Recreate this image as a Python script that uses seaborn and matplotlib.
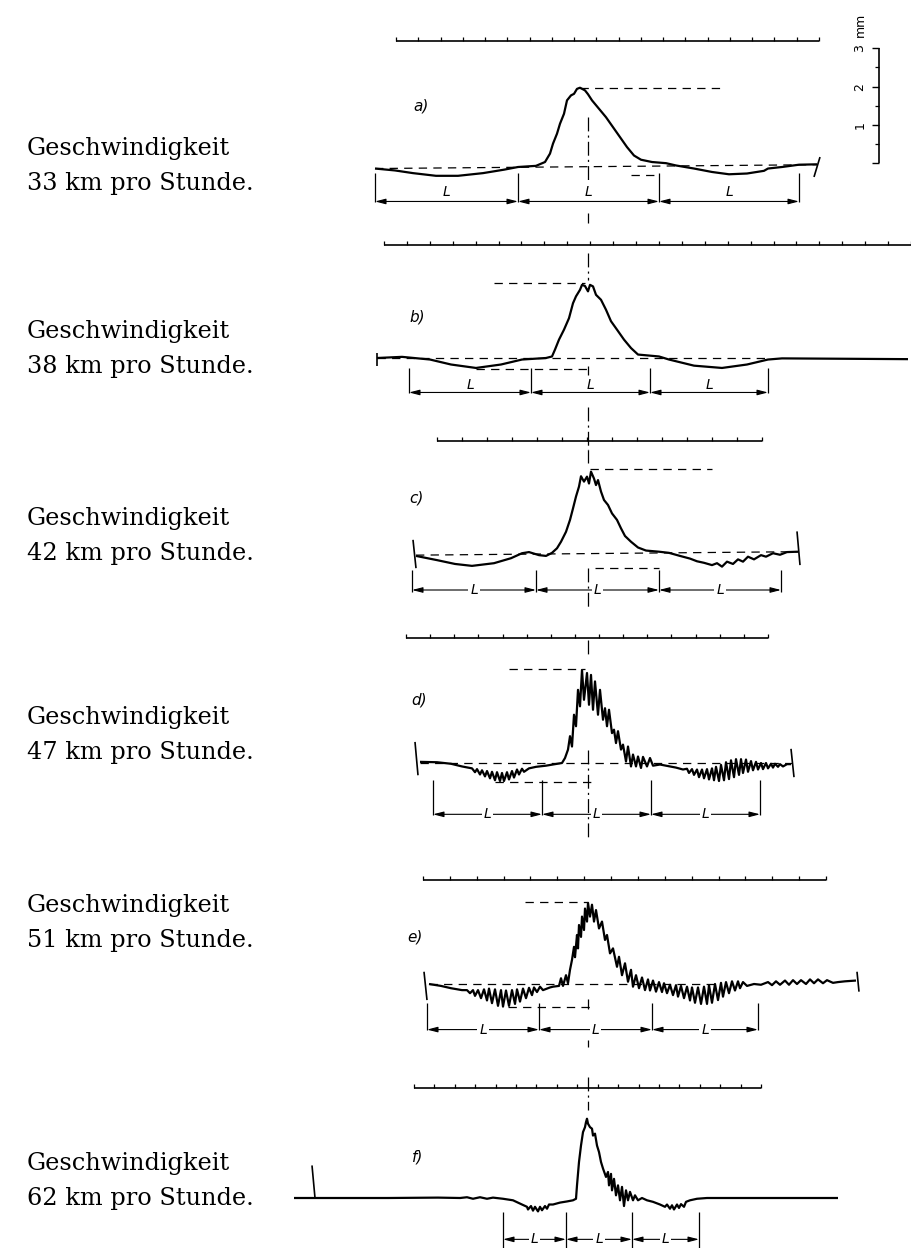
import numpy as np
import matplotlib
matplotlib.use("Agg")
import matplotlib.pyplot as plt
import seaborn as sns

sns.set_style("white")
plt.rcParams["font.family"] = ["DejaVu Serif"]
plt.rcParams["text.color"] = "black"
plt.rcParams["lines.scale_dashes"] = False
plt.rcParams["lines.solid_capstyle"] = "butt"

# ---- data -----------------------------------------------------------------
speeds = [33, 38, 42, 47, 51, 62]          # km pro Stunde
letters = ["a)", "b)", "c)", "d)", "e)", "f)"]

# deflection curves: x = position along the record (relative to the centre line),
# h = deflection in mm above the rest line
a_x = [-213, -193, -175, -152, -130, -105, -84, -70, -52, -43, -38, -35, -31, -28, -24, -21,
       -17, -14, -11, -8, -3, 0, 4, 11, 18, 25, 32, 39, 46, 53, 64, 78, 88, 106, 124, 141,
       159, 176, 180, 194, 211, 229]
a_h = [-0.04, -0.09, -0.16, -0.23, -0.23, -0.16, -0.07, 0.0, 0.03, 0.13, 0.35, 0.61, 0.87,
       1.13, 1.39, 1.74, 1.87, 1.91, 2.04, 2.07, 2.0, 1.9, 1.74, 1.52, 1.30, 1.04, 0.78, 0.52,
       0.30, 0.19, 0.13, 0.10, 0.04, -0.04, -0.13, -0.19, -0.17, -0.10, -0.04, 0.0, 0.06, 0.07]

b_x = [-211, -186, -158, -137, -112, -87, -66, -42, -36, -33, -29, -24, -19, -15, -12, -8,
       -6, -3, 0, 2, 5, 8, 13, 18, 23, 29, 36, 43, 50, 71, 81, 106, 134, 159, 180, 194, 320]
b_h = [0, 0.03, -0.04, -0.17, -0.26, -0.17, -0.04, 0, 0.04, 0.22, 0.48, 0.74, 1.04, 1.43,
       1.61, 1.78, 1.91, 1.88, 1.74, 1.91, 1.87, 1.65, 1.52, 1.26, 0.96, 0.74, 0.48, 0.26,
       0.09, 0.04, -0.04, -0.2, -0.26, -0.17, -0.04, -0.01, -0.03]

c_x = [-172, -151, -133, -116, -94, -77, -66, -59, -49, -42, -36, -31, -27, -22, -18, -15,
       -12, -9, -7, -4, -1, 1, 3, 6, 8, 10, 13, 16, 20, 24, 29, 33, 37, 43, 50, 58, 71, 81,
       92, 102, 109, 116, 124, 129, 134, 139, 145, 150, 155, 160, 166, 173, 178, 185, 192,
       199, 210]
c_h = [-0.05, -0.16, -0.26, -0.31, -0.24, -0.11, 0.02, 0.05, -0.03, -0.05, 0.03, 0.15, 0.32,
       0.58, 0.89, 1.19, 1.50, 1.76, 2.03, 1.89, 2.02, 1.84, 2.15, 1.97, 1.80, 1.93, 1.63,
       1.41, 1.28, 1.06, 0.89, 0.67, 0.47, 0.32, 0.17, 0.09, 0.06, 0.03, -0.05, -0.12, -0.19,
       -0.23, -0.29, -0.24, -0.33, -0.2, -0.26, -0.14, -0.2, -0.07, -0.14, -0.03, -0.07,
       0.02, -0.02, 0.05, 0.06]

d_x = [-168, -151, -137, -126, -116, -113, -111, -108, -106, -103, -101, -98, -96, -93, -91,
       -88, -86, -84, -81, -79, -76, -74, -71, -69, -66, -64, -59, -52, -42, -33,
       -26, -23, -20, -18, -16, -14, -12, -10, -8, -6, -4, -1, 1, 3, 5, 7, 10, 12, 15, 17,
       19, 21, 24, 26, 28, 30, 33, 35, 38, 40, 43, 45, 48, 50, 53, 55, 59, 62, 65, 72, 82,
       88, 95, 99, 101, 104, 106, 109, 111, 114, 116, 119, 121, 124, 126, 128, 131, 133, 136,
       138, 141, 143, 146, 148, 151, 153, 155, 158, 160, 163, 165, 168, 170, 173, 175, 178,
       180, 183, 185, 187, 190, 192, 195, 199, 203]
d_h = [0.03, 0.02, -0.02, -0.09, -0.14, -0.24, -0.16, -0.30, -0.19, -0.35, -0.21, -0.40,
       -0.23, -0.45, -0.24, -0.47, -0.26, -0.47, -0.24, -0.43, -0.21, -0.38, -0.17, -0.30,
       -0.15, -0.23, -0.14, -0.10, -0.07, -0.03,
       0, 0.13, 0.35, 0.70, 0.43, 1.26, 0.96, 1.91, 1.48, 2.43, 1.65, 2.35, 1.52, 2.30, 1.39,
       2.13, 1.26, 1.91, 1.13, 1.43, 0.96, 1.39, 0.78, 0.87, 0.52, 0.83, 0.35, 0.48, 0.04,
       0.43, -0.09, 0.22, -0.09, 0.17, -0.13, 0.16, -0.09, 0.13, -0.07, -0.04, -0.09,
       -0.12, -0.17, -0.15, -0.26, -0.16, -0.31, -0.17, -0.37, -0.17, -0.40, -0.16, -0.43,
       -0.14, -0.45, -0.10, -0.47, -0.05, -0.45, 0.02, -0.42, 0.07, -0.37, 0.10, -0.31, 0.10,
       -0.26, 0.09, -0.23, 0.05, -0.19, 0.03, -0.17, 0, -0.16, 0, -0.14, -0.02, -0.12, -0.02,
       -0.10, -0.03, -0.09, -0.03, -0.03]

e_x = [-159, -147, -137, -126, -121, -118, -115, -113, -110, -107, -104, -101, -99, -96, -93,
       -90, -87, -85, -82, -79, -76, -73, -71, -68, -65, -62, -59, -56, -54, -51, -48, -45,
       -38, -35, -29, -27, -25, -22, -20, -18, -16, -14, -13, -11, -10, -9, -7, -6, -4, -3,
       -1, 0, 2, 4, 6, 8, 11, 14, 17, 19, 22, 25, 29, 31, 34, 37, 40, 43, 45, 48, 51, 54, 57,
       60, 62, 65, 68, 71, 74, 76, 79, 82, 85, 88, 90, 93, 96, 99, 102, 104, 107, 110, 113,
       116, 119, 121, 124, 127, 130, 133, 135, 138, 141, 144, 147, 150, 152, 155, 159, 166,
       173, 180, 184, 188, 192, 197, 201, 205, 209, 213, 218, 222, 226, 230, 235, 239, 245,
       250, 257, 268]
e_h = [0, -0.05, -0.11, -0.16, -0.16, -0.24, -0.16, -0.31, -0.16, -0.37, -0.14, -0.43, -0.12,
       -0.50, -0.14, -0.57, -0.16, -0.59, -0.17, -0.57, -0.16, -0.52, -0.14, -0.46, -0.12,
       -0.37, -0.10, -0.29, -0.09, -0.21, -0.07, -0.16, -0.09, -0.07, -0.05, 0.15, -0.05,
       0.23, 0.02, 0.37, 0.63, 0.97, 0.70, 1.28, 0.93, 1.54, 1.23, 1.76, 1.41, 1.97, 1.63,
       2.12, 1.76, 2.07, 1.63, 1.93, 1.45, 1.63, 1.15, 1.28, 0.80, 0.93, 0.45, 0.71, 0.23,
       0.54, 0.06, 0.37, -0.07, 0.23, -0.11, 0.17, -0.16, 0.12, -0.17, 0.09, -0.20, 0.05,
       -0.21, 0.02, -0.24, -0.02, -0.29, -0.03, -0.33, -0.05, -0.37, -0.07, -0.43, -0.09,
       -0.49, -0.09, -0.52, -0.07, -0.52, -0.03, -0.49, 0, -0.42, 0.03, -0.33, 0.05, -0.24,
       0.07, -0.17, 0.07, -0.11, 0.05, -0.05, 0, -0.02, 0.05, -0.03, 0.07, -0.02, 0.09, -0.02,
       0.10, 0, 0.10, 0, 0.12, 0.02, 0.12, 0.02, 0.10, 0.03, 0.05, 0.07, 0.09]

f_x = [-294, -200, -150, -128, -121, -115, -108, -101, -95, -85, -75, -66, -61, -60, -57, -55,
       -53, -50, -48, -46, -43, -41, -39, -35, -28, -21, -15, -12, -11, -9, -7, -5, -3, -2,
       -1, 0, 2, 4, 5, 7, 9, 11, 13, 15, 18, 20, 21, 23, 24, 26, 28, 30, 32, 34, 36, 38, 40,
       42, 45, 47, 50, 54, 59, 65, 72, 77, 79, 82, 84, 86, 89, 91, 93, 96, 98, 102, 109, 119,
       132, 250]
f_h = [0, 0, 0.01, 0, 0.02, -0.02, 0.02, -0.02, 0.01, -0.02, -0.06, -0.17, -0.23, -0.30,
       -0.21, -0.33, -0.23, -0.35, -0.23, -0.32, -0.21, -0.28, -0.17, -0.17, -0.12, -0.09,
       -0.06, -0.02, 0.33, 0.94, 1.37, 1.72, 1.85, 1.98, 2.07, 1.94, 1.85, 1.81, 1.63, 1.68,
       1.37, 1.20, 0.94, 0.77, 0.55, 0.68, 0.33, 0.63, 0.20, 0.50, 0.07, 0.33, -0.06, 0.29,
       -0.21, 0.20, -0.06, 0.16, -0.06, 0.07, -0.06, 0, -0.06, -0.10, -0.17, -0.23, -0.17,
       -0.28, -0.19, -0.30, -0.17, -0.26, -0.16, -0.23, -0.10, -0.06, -0.02, 0, 0, 0]

traces_x = [a_x, b_x, c_x, d_x, e_x, f_x]
traces_h = [a_h, b_h, c_h, d_h, e_h, f_h]

# boundaries of the three L intervals
L_marks = [[-213, -70, 71, 211], [-179, -57, 62, 180], [-176, -52, 71, 193],
           [-155, -46, 63, 172], [-161, -49, 64, 170], [-85, -22, 44, 111]]

# dashed reference lines (mm) with their extents
rest_line = [((-213, 229), (-0.04, 0.06)), ((-211, 180), (0, 0)), ((-172, 210), (-0.03, 0.06)),
             ((-168, 204), (0, 0)), ((-159, 130), (0, 0)), None]
peak_level = [2.07, 1.96, 2.21, 2.46, 2.15, None]
peak_span = [(-8, 132), (-94, -3), (2, 124), (-79, -3), (-63, -1), None]
low_level = [-0.22, -0.30, -0.37, -0.50, -0.59, None]
low_span = [(43, 71), (-112, 2), (7, 71), (-93, 4), (-80, 6), None]

# vertical scale in mm
scale_ticks = [0, 1, 2, 3]

# ---- layout (page pixels) ---------------------------------------------------
W, H = 911, 1248
MM = 38.3        # pixels per mm
X0 = 588         # centre line on the page
base_y = [167, 358, 554, 763, 984, 1198]
ruler_y = [41, 245, 441, 638, 880, 1088]
ruler_span = [(-192, 231, 19), (-204, 323, 23), (-151, 174, 13), (-182, 180, 15),
              (-165, 238, 15), (-174, 173, 17)]
caption_y = [190, 373, 560, 759, 947, 1205]
letter_pos = [(-175, 1.59), (-179, 1.07), (-179, 1.46), (-177, 1.64), (-181, 1.23), (-176, 1.07)]
L_tick = [(-0.15, -0.92), (-0.26, -0.91), (-0.42, -0.98), (-0.45, -1.37), (-0.5, -1.2), (-0.37, -1.3)]
L_arrow = [-0.9, -0.9, -0.94, -1.34, -1.19, -1.08]
L_label = [-0.65, -0.7, -0.94, -1.34, -1.19, -1.08]
end_marks = [[(232, 0.26, 226, -0.26)],
             [(-211, 0.13, -211, -0.22)],
             [(-175, 0.37, -172, -0.37), (209, 0.59, 212, -0.29)],
             [(-173, 0.55, -170, -0.32), (203, 0.37, 206, -0.37)],
             [(-164, 0.32, -161, -0.42), (269, 0.32, 271, -0.2)],
             [(-276, 0.85, -273, 0)]]
centre_segs = [[(1.31, -0.34), (-1.2, -1.46)],
               [(2.74, 2.04), (-0.2, -0.45), (-1.28, -2.4)],
               [(2.71, 2.37), (-0.37, -1.46)],
               [(3.2, 2.8), (0.34, -2.0)],
               [(-0.4, -0.66), (-1.46, -1.65)],
               [(3.16, 2.3)]]

dash = (0, (6, 4.5))
dashdot = (0, (10, 3, 1.5, 3))

fig = plt.figure(figsize=(W / 100, H / 100), dpi=100)
fig.patch.set_facecolor("white")

for i in range(6):
    ax = fig.add_axes([0, 0, 1, 1])
    ax.set_xlim(-X0, W - X0)
    ax.set_ylim((base_y[i] - H) / MM, base_y[i] / MM)
    ax.axis("off")
    ax.patch.set_alpha(0)

    # the record
    sns.lineplot(x=traces_x[i], y=traces_h[i], ax=ax, color="black", lw=1.6,
                 sort=False, estimator=None)

    # time ruler above the record
    ry = (base_y[i] - ruler_y[i]) / MM
    x0, x1, n = ruler_span[i]
    ax.plot([x0, x1], [ry, ry], color="black", lw=1.2)
    ax.vlines(np.linspace(x0, x1, n + 1), ry, ry + 4 / MM, color="black", lw=0.9)

    # dashed reference lines
    if rest_line[i] is not None:
        ax.plot(rest_line[i][0], rest_line[i][1], color="black", lw=0.9, ls=dash)
    if peak_level[i] is not None:
        ax.plot(peak_span[i], [peak_level[i]] * 2, color="black", lw=0.9, ls=dash)
        ax.plot(low_span[i], [low_level[i]] * 2, color="black", lw=0.9, ls=dash)

    # end marks of the record
    for xt, yt, xb, yb in end_marks[i]:
        ax.plot([xt, xb], [yt, yb], color="black", lw=1.2)

    # centre line (dash-dot)
    for yt, yb in centre_segs[i]:
        ax.plot([0, 0], [yt, yb], color="black", lw=0.9, ls=dashdot)

    # L intervals
    lm = L_marks[i]
    ax.vlines(lm, L_tick[i][1], L_tick[i][0], color="black", lw=0.9)
    for j in range(3):
        ax.annotate("", xy=(lm[j + 1], L_arrow[i]), xytext=(lm[j], L_arrow[i]),
                    arrowprops=dict(arrowstyle="<|-|>,head_length=0.7,head_width=0.18",
                                    color="black", lw=0.8, shrinkA=0, shrinkB=0,
                                    mutation_scale=9))
        on_line = i >= 2
        ax.text((lm[j] + lm[j + 1]) / 2, L_label[i], "L", fontsize=10, style="italic",
                family="DejaVu Sans", ha="center", va="center",
                bbox=dict(fc="white", ec="none", pad=1.5) if on_line else None)

    # panel letter
    ax.text(letter_pos[i][0], letter_pos[i][1], letters[i], fontsize=11, style="italic",
            family="DejaVu Sans", ha="left", va="center")

    # caption
    fig.text(27 / W, 1 - (caption_y[i] - 35) / H, "Geschwindigkeit", fontsize=17.3,
             ha="left", va="baseline")
    fig.text(27 / W, 1 - caption_y[i] / H, f"{speeds[i]} km pro Stunde.", fontsize=17.3,
             ha="left", va="baseline")

    # vertical mm scale next to panel a
    if i == 0:
        sx, s0 = 291, 0.1
        ax.plot([sx, sx], [s0, s0 + scale_ticks[-1]], color="black", lw=1.2)
        ax.hlines([s0 + t for t in scale_ticks], sx - 7, sx, color="black", lw=1.0)
        ax.hlines([s0 + t + 0.5 for t in scale_ticks[:-1]], sx - 4, sx, color="black", lw=0.9)
        for t in scale_ticks[1:]:
            ax.text(sx - 19, s0 + t, str(t), fontsize=9, rotation=90, family="DejaVu Sans",
                    ha="center", va="center")
        ax.text(sx - 19, s0 + 3.6, "mm", fontsize=9, rotation=90, family="DejaVu Sans",
                ha="center", va="center")

fig.savefig("out.png", dpi=100, facecolor="white")
